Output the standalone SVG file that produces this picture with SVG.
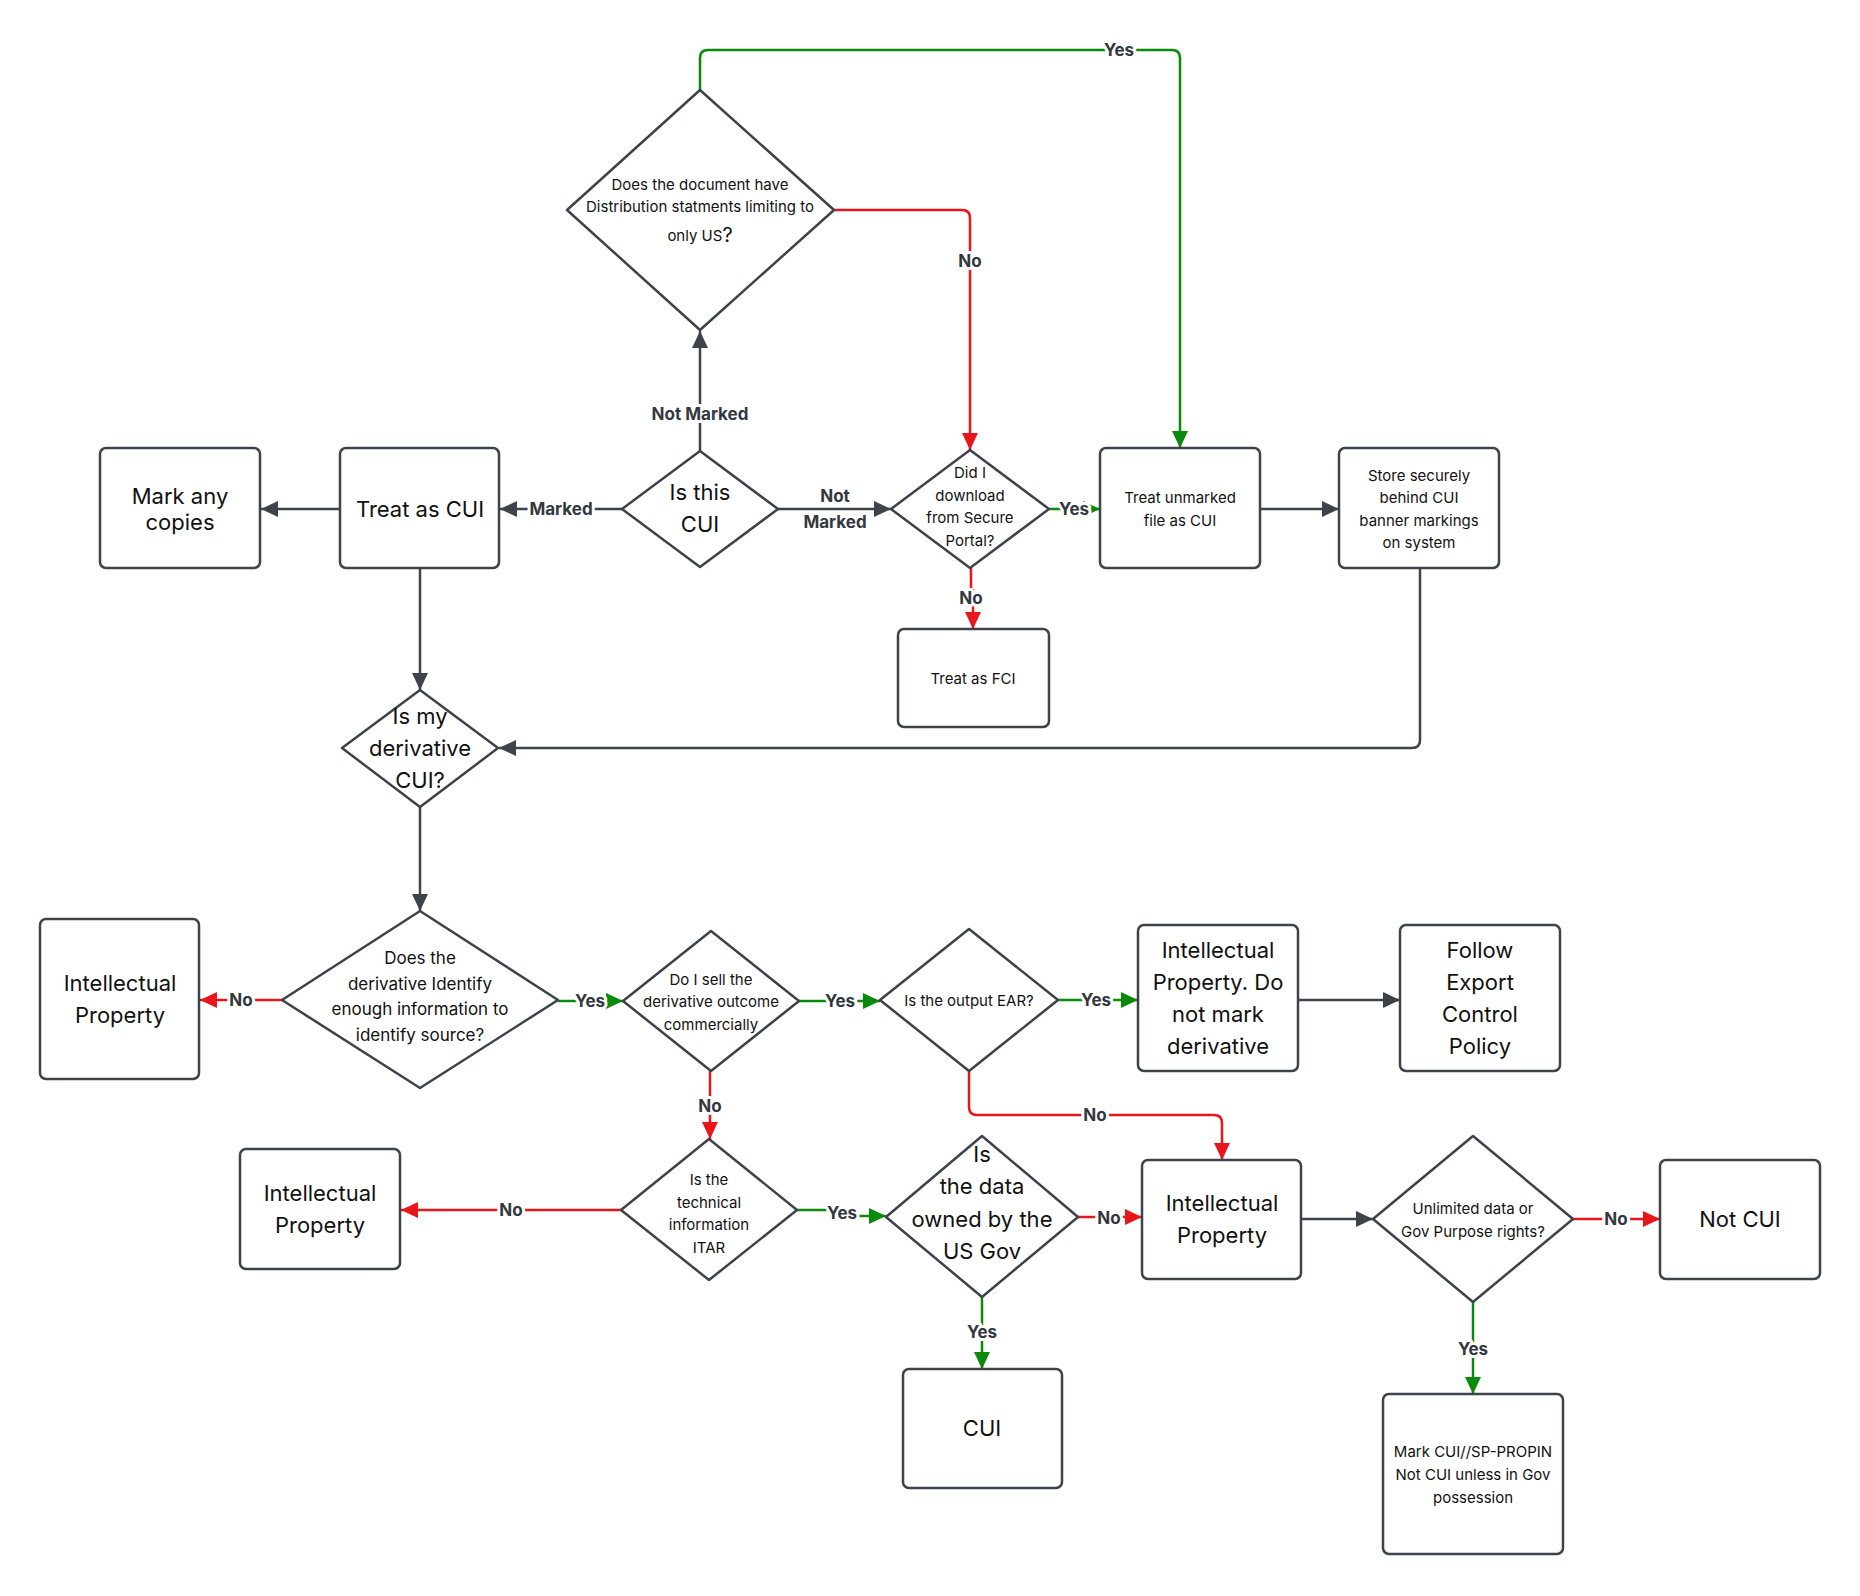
<svg xmlns="http://www.w3.org/2000/svg" width="1860" height="1596" viewBox="0 0 1860 1596">
<defs>
<style>
.box{fill:#fff;stroke:#3d424b;stroke-width:2.5;}
.dia{fill:#fff;stroke:#3d424b;stroke-width:2.5;stroke-linejoin:round;}
text{font-family:Inter,"Liberation Sans",sans-serif;fill:#111;text-anchor:middle;dominant-baseline:central;}
.s{font-size:15px;}
.m{font-size:17px;}
.l{font-size:22px;}
.c{fill:none;stroke-width:2.5;}
.dk{stroke:#3d424b;}
.gr{stroke:#0a8a0a;}
.rd{stroke:#e8161a;}
.lbl{font-size:17px;font-weight:bold;fill:#333840;paint-order:stroke;stroke:#fff;stroke-width:6px;stroke-linejoin:round;}
</style>
<marker id="aDk" markerUnits="userSpaceOnUse" markerWidth="18" markerHeight="16" refX="17" refY="8" orient="auto"><path d="M0,0 L17,8 L0,16 z" fill="#3d424b"/></marker>
<marker id="aGr" markerUnits="userSpaceOnUse" markerWidth="18" markerHeight="16" refX="17" refY="8" orient="auto"><path d="M0,0 L17,8 L0,16 z" fill="#0a8a0a"/></marker>
<marker id="aRd" markerUnits="userSpaceOnUse" markerWidth="18" markerHeight="16" refX="17" refY="8" orient="auto"><path d="M0,0 L17,8 L0,16 z" fill="#e8161a"/></marker>
</defs>
<rect width="1860" height="1596" fill="#fff"/>

<g id="connectors">
<path class="c gr" d="M700,90 V58 Q700,50 708,50 H1172 Q1180,50 1180,58 V448" marker-end="url(#aGr)"/>
<path class="c rd" d="M834,210 H962 Q970,210 970,218 V450" marker-end="url(#aRd)"/>
<path class="c dk" d="M700,451 V331" marker-end="url(#aDk)"/>
<path class="c dk" d="M622,509 H500" marker-end="url(#aDk)"/>
<path class="c dk" d="M778,509 H891" marker-end="url(#aDk)"/>
<path class="c gr" d="M1049,509 H1100" marker-end="url(#aGr)"/>
<path class="c rd" d="M971,568 V590 H973 V629" marker-end="url(#aRd)"/>
<path class="c dk" d="M340,509 H261" marker-end="url(#aDk)"/>
<path class="c dk" d="M420,568 V690" marker-end="url(#aDk)"/>
<path class="c dk" d="M1260,509 H1339" marker-end="url(#aDk)"/>
<path class="c dk" d="M1420,568 V740 Q1420,748 1412,748 H499" marker-end="url(#aDk)"/>
<path class="c dk" d="M420,807 V911" marker-end="url(#aDk)"/>
<path class="c rd" d="M282,1000 H200" marker-end="url(#aRd)"/>
<path class="c gr" d="M558,1001 H623" marker-end="url(#aGr)"/>
<path class="c gr" d="M799,1001 H880" marker-end="url(#aGr)"/>
<path class="c gr" d="M1058,1000 H1138" marker-end="url(#aGr)"/>
<path class="c dk" d="M1298,1000 H1400" marker-end="url(#aDk)"/>
<path class="c rd" d="M969,1071 V1107 Q969,1115 977,1115 H1214 Q1222,1115 1222,1123 V1160" marker-end="url(#aRd)"/>
<path class="c rd" d="M710,1071 V1139" marker-end="url(#aRd)"/>
<path class="c rd" d="M621,1210 H401" marker-end="url(#aRd)"/>
<path class="c gr" d="M797,1210 H842 V1216 H886" marker-end="url(#aGr)"/>
<path class="c rd" d="M1078,1217 H1142" marker-end="url(#aRd)"/>
<path class="c gr" d="M982,1297 V1369" marker-end="url(#aGr)"/>
<path class="c dk" d="M1301,1219 H1373" marker-end="url(#aDk)"/>
<path class="c rd" d="M1573,1219 H1660" marker-end="url(#aRd)"/>
<path class="c gr" d="M1473,1302 V1394" marker-end="url(#aGr)"/>

<text class="lbl" x="1119" y="50">Yes</text>
<text class="lbl" x="970" y="261">No</text>
<text class="lbl" x="700" y="414">Not Marked</text>
<text class="lbl" x="561" y="509">Marked</text>
<text class="lbl" x="835" y="496">Not</text>
<text class="lbl" x="835" y="522">Marked</text>
<text class="lbl" x="1074" y="509">Yes</text>
<text class="lbl" x="971" y="598">No</text>
<text class="lbl" x="241" y="1000">No</text>
<text class="lbl" x="590" y="1001">Yes</text>
<text class="lbl" x="840" y="1001">Yes</text>
<text class="lbl" x="1096" y="1000">Yes</text>
<text class="lbl" x="1095" y="1115">No</text>
<text class="lbl" x="710" y="1106">No</text>
<text class="lbl" x="511" y="1210">No</text>
<text class="lbl" x="842" y="1213">Yes</text>
<text class="lbl" x="1109" y="1218">No</text>
<text class="lbl" x="982" y="1332">Yes</text>
<text class="lbl" x="1616" y="1219">No</text>
<text class="lbl" x="1473" y="1349">Yes</text>
</g>

<g id="n-dist">
<polygon class="dia" points="700,90 834,210 700,330 567,210"/>
<text class="s" x="700" y="184">Does the document have</text>
<text class="s" x="700" y="206">Distribution statments limiting to</text>
<text class="s" x="700" y="235">only US<tspan font-size="20px">?</tspan></text>
</g>

<g id="n-isthiscui">
<polygon class="dia" points="700,451 778,509 700,567 622,509"/>
<text class="l" x="700" y="492">Is this</text>
<text class="l" x="700" y="524">CUI</text>
</g>

<g id="n-treatcui">
<rect class="box" x="340" y="448" width="159" height="120" rx="6"/>
<text class="l" x="420" y="509">Treat as CUI</text>
</g>

<g id="n-markcopies">
<rect class="box" x="100" y="448" width="160" height="120" rx="6"/>
<text class="l" x="180" y="496">Mark any</text>
<text class="l" x="180" y="522">copies</text>
</g>

<g id="n-download">
<polygon class="dia" points="970,450 1049,509 970,568 891,509"/>
<text class="s" x="970" y="472">Did I</text>
<text class="s" x="970" y="495">download</text>
<text class="s" x="970" y="517">from Secure</text>
<text class="s" x="970" y="540">Portal?</text>
</g>

<g id="n-unmarked">
<rect class="box" x="1100" y="448" width="160" height="120" rx="6"/>
<text class="s" x="1180" y="497">Treat unmarked</text>
<text class="s" x="1180" y="520">file as CUI</text>
</g>

<g id="n-store">
<rect class="box" x="1339" y="448" width="160" height="120" rx="6"/>
<text class="s" x="1419" y="475">Store securely</text>
<text class="s" x="1419" y="497">behind CUI</text>
<text class="s" x="1419" y="520">banner markings</text>
<text class="s" x="1419" y="542">on system</text>
</g>

<g id="n-fci">
<rect class="box" x="898" y="629" width="151" height="98" rx="6"/>
<text class="s" x="973" y="678">Treat as FCI</text>
</g>

<g id="n-derivcui">
<polygon class="dia" points="420,690 498,748 420,807 342,748"/>
<text class="l" x="420" y="716">Is my</text>
<text class="l" x="420" y="748">derivative</text>
<text class="l" x="420" y="780">CUI?</text>
</g>

<g id="n-identify">
<polygon class="dia" points="420,911 558,1000 420,1088 282,1000"/>
<text class="m" x="420" y="958">Does the</text>
<text class="m" x="420" y="984">derivative Identify</text>
<text class="m" x="420" y="1009">enough information to</text>
<text class="m" x="420" y="1035">identify source?</text>
</g>

<g id="n-ip1">
<rect class="box" x="40" y="919" width="159" height="160" rx="6"/>
<text class="l" x="120" y="983">Intellectual</text>
<text class="l" x="120" y="1015">Property</text>
</g>

<g id="n-sell">
<polygon class="dia" points="711,931 799,1001 711,1071 623,1001"/>
<text class="s" x="711" y="979">Do I sell the</text>
<text class="s" x="711" y="1001">derivative outcome</text>
<text class="s" x="711" y="1024">commercially</text>
</g>

<g id="n-ear">
<polygon class="dia" points="969,929 1058,1000 969,1071 880,1000"/>
<text class="s" x="969" y="1000">Is the output EAR?</text>
</g>

<g id="n-ipnomark">
<rect class="box" x="1138" y="925" width="160" height="146" rx="6"/>
<text class="l" x="1218" y="950">Intellectual</text>
<text class="l" x="1218" y="982">Property. Do</text>
<text class="l" x="1218" y="1014">not mark</text>
<text class="l" x="1218" y="1046">derivative</text>
</g>

<g id="n-export">
<rect class="box" x="1400" y="925" width="160" height="146" rx="6"/>
<text class="l" x="1480" y="950">Follow</text>
<text class="l" x="1480" y="982">Export</text>
<text class="l" x="1480" y="1014">Control</text>
<text class="l" x="1480" y="1046">Policy</text>
</g>

<g id="n-itar">
<polygon class="dia" points="709,1139 797,1210 709,1280 621,1210"/>
<text class="s" x="709" y="1179">Is the</text>
<text class="s" x="709" y="1202">technical</text>
<text class="s" x="709" y="1224">information</text>
<text class="s" x="709" y="1247">ITAR</text>
</g>

<g id="n-ip2">
<rect class="box" x="240" y="1149" width="160" height="120" rx="6"/>
<text class="l" x="320" y="1193">Intellectual</text>
<text class="l" x="320" y="1225">Property</text>
</g>

<g id="n-usgov">
<polygon class="dia" points="982,1136 1078,1217 982,1297 886,1217"/>
<text class="l" x="982" y="1154">Is</text>
<text class="l" x="982" y="1186">the data</text>
<text class="l" x="982" y="1219">owned by the</text>
<text class="l" x="982" y="1251">US Gov</text>
</g>

<g id="n-cui">
<rect class="box" x="903" y="1369" width="159" height="119" rx="6"/>
<text class="l" x="982" y="1428">CUI</text>
</g>

<g id="n-ip3">
<rect class="box" x="1142" y="1160" width="159" height="119" rx="6"/>
<text class="l" x="1222" y="1203">Intellectual</text>
<text class="l" x="1222" y="1235">Property</text>
</g>

<g id="n-rights">
<polygon class="dia" points="1473,1136 1573,1219 1473,1302 1373,1219"/>
<text class="s" x="1473" y="1208">Unlimited data or</text>
<text class="s" x="1473" y="1231">Gov Purpose rights?</text>
</g>

<g id="n-notcui">
<rect class="box" x="1660" y="1160" width="160" height="119" rx="6"/>
<text class="l" x="1740" y="1219">Not CUI</text>
</g>

<g id="n-propin">
<rect class="box" x="1383" y="1394" width="180" height="160" rx="6"/>
<text class="s" x="1473" y="1451">Mark CUI//SP-PROPIN</text>
<text class="s" x="1473" y="1474">Not CUI unless in Gov</text>
<text class="s" x="1473" y="1497">possession</text>
</g>
</svg>
